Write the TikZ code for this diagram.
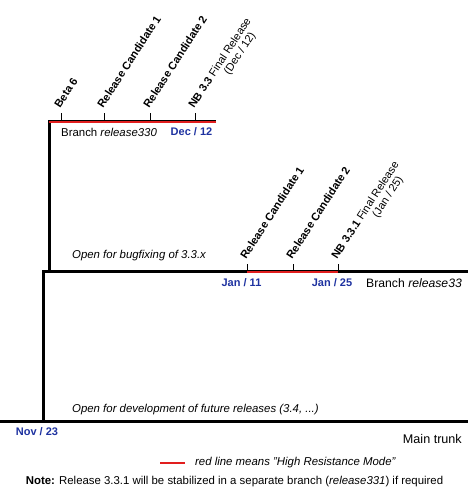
\documentclass[tikz,border=0pt]{standalone}
\usepackage{fontspec}
\setmainfont{Liberation Sans}
\definecolor{nbblue}{RGB}{30,50,160}
\definecolor{hrmred}{RGB}{225,30,30}
\begin{document}
\begin{tikzpicture}[x=1pt,y=-1pt,
  trunk/.style={line width=3pt},
  hrm/.style={hrmred,line width=2pt},
  tickline/.style={line width=0.8pt},
  rel/.style={rotate=57,anchor=base west,inner sep=0pt,xshift=3pt,yshift=3pt,
    font=\fontsize{11}{11.5}\selectfont\bfseries},
  lbl/.style={inner sep=0pt,anchor=west,font=\fontsize{11.4}{13}\selectfont},
  ilbl/.style={lbl,font=\fontsize{11.4}{13}\selectfont\itshape},
  datelbl/.style={inner sep=0pt,text=nbblue,font=\fontsize{11}{13}\selectfont\bfseries},
  ]
\useasboundingbox (0,0) rectangle (468,495);
% coordinates of the lines
\coordinate (t0) at (0,421);
\coordinate (te) at (468,421);
\coordinate (t1) at (43.3,421);
\coordinate (b1) at (43.3,271);
\coordinate (b1e) at (468,271);
\coordinate (b2) at (49,271);
\coordinate (b2t) at (49,121);
\coordinate (b2e) at (216,121);
% main trunk
\draw[trunk] (t0) -- (te);
% branch release33
\draw[trunk] (b1e) -- (b1) -- (t1);
% branch release330
\draw[trunk] (b2e) -- (b2t) -- (b2);
% high resistance mode lines
\coordinate (r330a) at (49,122);
\coordinate (r330b) at (216,122);
\draw[hrm] (r330a) -- (r330b);
\coordinate (r33a) at (247,272);
\coordinate (r33b) at (338,272);
\draw[hrm] (r33a) -- (r33b);
% ticks release330
\coordinate (k1) at (61,113);
\coordinate (k2) at (104,113);
\coordinate (k3) at (150,113);
\coordinate (k4) at (195,113);
\foreach \k in {k1,k2,k3,k4} \draw[tickline] (\k) -- (\k |- b2t);
% ticks release33
\coordinate (j1) at (247,264);
\coordinate (j2) at (293,264);
\coordinate (j3) at (338,264);
\foreach \k in {j1,j2,j3} \draw[tickline] (\k) -- (\k |- b1);
% rotated labels
\node[rel] (l1) at (k1) {Beta 6};
\node[rel] (l2) at (k2) {Release Candidate 1};
\node[rel] (l3) at (k3) {Release Candidate 2};
\node[rel] (l4) at (k4) {NB 3.3 {\mdseries\begin{tabular}[t]{@{}c@{}}Final Release\\(Dec / 12)\end{tabular}}};
\node[rel] (m1) at (j1) {Release Candidate 1};
\node[rel] (m2) at (j2) {Release Candidate 2};
\node[rel] (m3) at (j3) {NB 3.3.1 {\mdseries\begin{tabular}[t]{@{}c@{}}Final Release\\(Jan / 25)\end{tabular}}};
% branch labels
\node[lbl] (n330) at (61,132) {Branch \textit{release330}};
\node[datelbl] (d12) at (191.5,132) {Dec / 12};
\node[ilbl] (bug) at (72,256) {Open for bugfixing of 3.3.x};
\node[datelbl] (d11) at (241.5,283) {Jan / 11};
\node[datelbl] (d25) at (332,283) {Jan / 25};
\node[lbl,font=\fontsize{12.2}{14}\selectfont] (n33) at (366,283) {Branch \textit{release33}};
\node[ilbl] (dev) at (72,410) {Open for development of future releases (3.4, ...)};
\node[datelbl] (d23) at (37,432) {Nov / 23};
\node[lbl,anchor=east,font=\fontsize{12.6}{14}\selectfont] (mt) at (462,439) {Main trunk};
% legend
\coordinate (lg1) at (160,463);
\coordinate (lg2) at (185,463);
\draw[hrm] (lg1) -- (lg2);
\node[ilbl] (lgt) at (195,463) {red line means "High Resistance Mode"};
\node[lbl,anchor=center] (note) at (234.5,482) {\textbf{Note:} Release 3.3.1 will be stabilized in a separate branch (\textit{release331}) if required};
\end{tikzpicture}
\end{document}
